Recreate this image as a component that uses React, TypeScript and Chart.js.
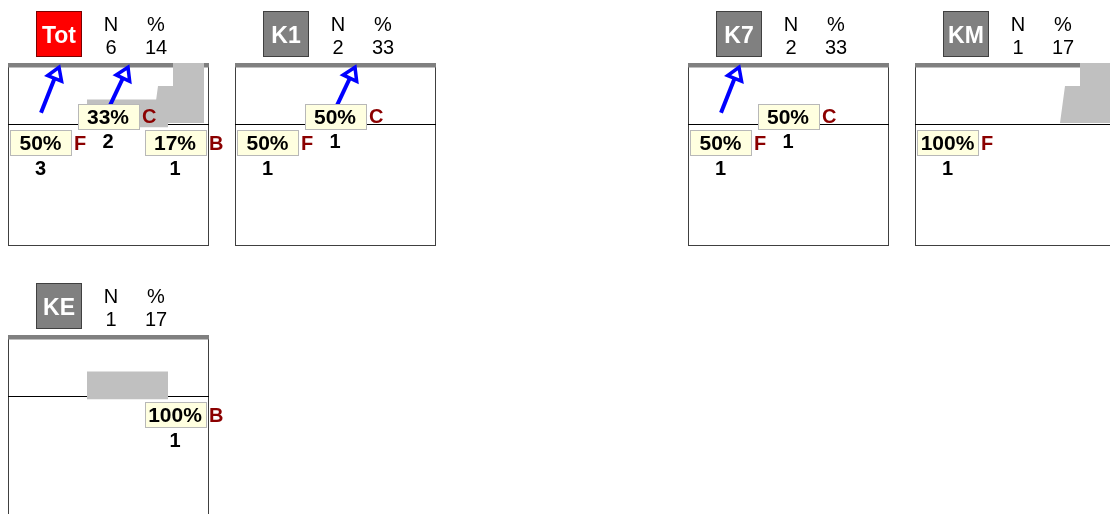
import React, { useEffect, useRef } from 'react';
import { Chart, registerables } from 'chart.js';

Chart.register(...registerables);

// ---------- DATA ----------
const groups = ['Tot', 'K1', 'K7', 'KM', 'KE'];
const groupN = [6, 2, 2, 1, 1];
const groupPct = [14, 33, 33, 17, 17];

const categories = ['F', 'C', 'B'];
const categoryX = [16.25, 50, 83.5];
const categoryRowY = [-0.31, 0.125, -0.31];

const fPct = [50, 50, 50, 100, null];
const fCount = [3, 1, 1, 1, null];
const cPct = [33, 50, 50, null, null];
const cCount = [2, 1, 1, null, null];
const bPct = [17, null, null, null, 100];
const bCount = [1, null, null, null, 1];

const hasArrowF = [true, false, true, false, false];
const hasArrowC = [true, true, false, false, false];
const arrowFX = [16.5, 25.5];
const arrowFY = [0.18, 0.93];
const arrowCX = [51, 60];
const arrowCY = [0.3, 0.93];

const hasShapeA = [true, false, false, false, true];
const hasShapeB = [true, false, false, true, false];
const shapeAX = [39.5, 80];
const shapeAY = [0.4, 0.4];
const shapeABase = -0.06;
const shapeBX = [72.5, 75, 82.5, 82.5, 98];
const shapeBY = [0.01, 0.62, 0.62, 1, 1];
const shapeBBase = 0.01;

// ---------- LAYOUT ----------
const panelLeft = [8, 235, 688, 915, 8];
const panelTop = [63, 63, 63, 63, 335];
const CW = 227;
const CH = 250;
const PAD = { left: 8, top: 63, right: 19, bottom: 5 };
const FONT = '"Liberation Sans", Arial, Helvetica, sans-serif';

function capText(ctx: CanvasRenderingContext2D, text: string, cx: number, cy: number, size: number, bold: boolean, color: string, align: CanvasTextAlign = 'center') {
  ctx.font = `${bold ? 'bold ' : ''}${size}px ${FONT}`;
  ctx.fillStyle = color;
  ctx.textAlign = align;
  ctx.textBaseline = 'alphabetic';
  ctx.fillText(text, cx, cy + 0.358 * size);
}

function Panel({ idx }: { idx: number }) {
  const ref = useRef<HTMLCanvasElement | null>(null);

  useEffect(() => {
    if (!ref.current) return;
    const datasets: any[] = [];
    if (hasArrowF[idx]) {
      datasets.push({
        label: 'arrowF',
        data: arrowFX.map((x, i) => ({ x, y: arrowFY[i] })),
        borderColor: '#0000FF', borderWidth: 4, pointRadius: 0, fill: false, order: 0, borderCapStyle: 'butt',
      });
    }
    if (hasArrowC[idx]) {
      datasets.push({
        label: 'arrowC',
        data: arrowCX.map((x, i) => ({ x, y: arrowCY[i] })),
        borderColor: '#0000FF', borderWidth: 4, pointRadius: 0, fill: false, order: 0, borderCapStyle: 'butt',
      });
    }
    if (hasShapeB[idx]) {
      datasets.push({
        label: 'rangeB',
        data: shapeBX.map((x, i) => ({ x, y: shapeBY[i] })),
        borderWidth: 0, borderColor: 'rgba(0,0,0,0)', pointRadius: 0,
        backgroundColor: '#C0C0C0', fill: { value: shapeBBase }, order: 2,
      });
    }
    if (hasShapeA[idx]) {
      datasets.push({
        label: 'rangeA',
        data: shapeAX.map((x, i) => ({ x, y: shapeAY[i] })),
        borderWidth: 0, borderColor: 'rgba(0,0,0,0)', pointRadius: 0,
        backgroundColor: '#C0C0C0', fill: { value: shapeABase }, order: 2,
      });
    }

    const decor = {
      id: 'decor',
      beforeDatasetsDraw(chart: any) {
        const { ctx, chartArea } = chart;
        const ys = chart.scales.y;
        const { left, right, top, bottom } = chartArea;
        ctx.save();
        ctx.strokeStyle = '#404040';
        ctx.lineWidth = 1;
        ctx.strokeRect(left + 0.5, top + 0.5, right - left, bottom - top);
        ctx.fillStyle = '#808080';
        ctx.fillRect(left, top, right - left + 1, 4.5);
        const y0 = Math.round(ys.getPixelForValue(0)) + 0.5;
        ctx.strokeStyle = '#000000';
        ctx.beginPath();
        ctx.moveTo(left, y0);
        ctx.lineTo(right + 1, y0);
        ctx.stroke();
        ctx.restore();
      },
      afterDatasetsDraw(chart: any) {
        const { ctx, chartArea } = chart;
        const xs = chart.scales.x;
        const ys = chart.scales.y;
        const { left, top } = chartArea;
        ctx.save();

        const heads: Array<[number[], number[]]> = [];
        if (hasArrowF[idx]) heads.push([arrowFX, arrowFY]);
        if (hasArrowC[idx]) heads.push([arrowCX, arrowCY]);
        heads.forEach(([ax, ay]) => {
          const x0 = xs.getPixelForValue(ax[0]);
          const y0 = ys.getPixelForValue(ay[0]);
          const x1 = xs.getPixelForValue(ax[1]);
          const y1 = ys.getPixelForValue(ay[1]);
          const len = Math.hypot(x1 - x0, y1 - y0);
          const dx = (x1 - x0) / len;
          const dy = (y1 - y0) / len;
          const bx = x1 - dx * 12;
          const by = y1 - dy * 12;
          const nx = -dy;
          const ny = dx;
          ctx.beginPath();
          ctx.moveTo(x1, y1);
          ctx.lineTo(bx + nx * 7.5, by + ny * 7.5);
          ctx.lineTo(bx - nx * 7.5, by - ny * 7.5);
          ctx.closePath();
          ctx.fillStyle = '#FFFFFF';
          ctx.fill();
          ctx.strokeStyle = '#0000FF';
          ctx.lineWidth = 3.5;
          ctx.lineJoin = 'miter';
          ctx.stroke();
        });

        const pcts = [fPct[idx], cPct[idx], bPct[idx]];
        const counts = [fCount[idx], cCount[idx], bCount[idx]];
        categories.forEach((cat, k) => {
          const p = pcts[k];
          if (p === null || p === undefined) return;
          const cx = xs.getPixelForValue(categoryX[k]);
          const cy = ys.getPixelForValue(categoryRowY[k]);
          const bw = 61;
          const bh = 25;
          const bx = Math.round(cx - bw / 2) + 0.5;
          const by = Math.round(cy - bh / 2) + 0.5;
          ctx.fillStyle = '#FFFFE0';
          ctx.fillRect(bx, by, bw, bh);
          ctx.strokeStyle = '#B8B8B8';
          ctx.lineWidth = 1;
          ctx.strokeRect(bx, by, bw, bh);
          capText(ctx, `${p}%`, cx, cy, 21, true, '#000000');
          capText(ctx, cat, bx + bw + 2.5, cy, 20, true, '#8B0000', 'left');
          capText(ctx, String(counts[k]), cx, cy + 25, 20, true, '#000000');
        });

        const hx = left + 28;
        const hy = top - 52;
        ctx.fillStyle = idx === 0 ? '#FF0000' : '#808080';
        ctx.fillRect(hx, hy, 46, 46);
        ctx.strokeStyle = idx === 0 ? '#7A0000' : '#404040';
        ctx.lineWidth = 1;
        ctx.strokeRect(hx + 0.5, hy + 0.5, 45, 45);
        capText(ctx, groups[idx], hx + 23, top - 28, 23, true, '#FFFFFF');
        capText(ctx, 'N', left + 103, top - 39.5, 20, false, '#000000');
        capText(ctx, String(groupN[idx]), left + 103, top - 16.5, 20, false, '#000000');
        capText(ctx, '%', left + 148, top - 39.5, 20, false, '#000000');
        capText(ctx, String(groupPct[idx]), left + 148, top - 16.5, 20, false, '#000000');
        ctx.restore();
      },
    };

    const chart = new Chart(ref.current, {
      type: 'line',
      data: { datasets },
      options: {
        responsive: false,
        animation: false,
        events: [],
        layout: { padding: PAD },
        plugins: { legend: { display: false }, tooltip: { enabled: false } },
        scales: {
          x: { type: 'linear', min: 0, max: 100, display: false },
          y: { type: 'linear', min: -2, max: 1, display: false },
        },
      },
      plugins: [decor],
    } as any);
    return () => chart.destroy();
  }, [idx]);

  return (
    <canvas
      ref={ref}
      width={CW}
      height={CH}
      style={{ position: 'absolute', left: panelLeft[idx] - 8, top: panelTop[idx] - 63, width: CW, height: CH }}
    />
  );
}

export default function App() {
  return (
    <div style={{ position: 'absolute', left: 0, top: 0, width: 1110, height: 514, overflow: 'hidden', background: '#FFFFFF' }}>
      {groups.map((g, i) => (
        <Panel key={g} idx={i} />
      ))}
    </div>
  );
}
